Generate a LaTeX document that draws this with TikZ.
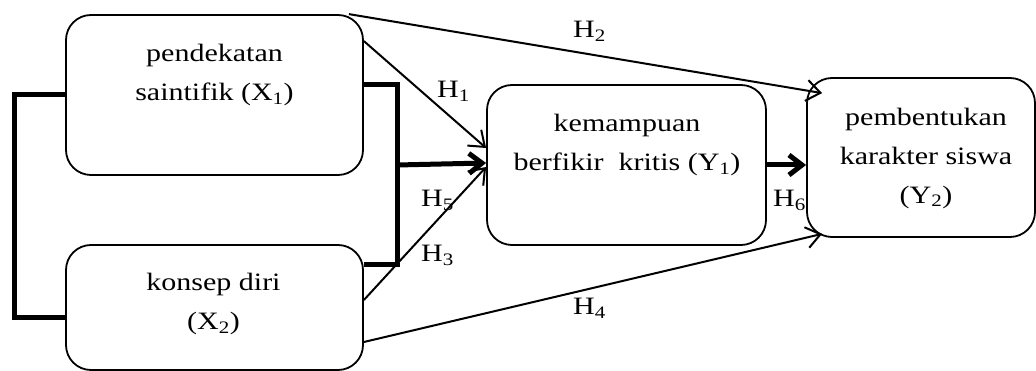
\documentclass[tikz,border=0pt]{standalone}
\usepackage{fontspec}
\setmainfont{Liberation Serif}[FakeStretch=1.2]
\usetikzlibrary{arrows.meta}
\begin{document}
\begin{tikzpicture}[x=1pt,y=-1pt,
  box/.style={draw, line width=1.8pt, rounded corners=25pt, inner sep=0pt},
  txt/.style={align=center, font=\fontsize{25}{39}\selectfont, inner sep=0pt},
  lab/.style={anchor=base west, font=\fontsize{25}{30}\selectfont, inner sep=0pt},
  thinarrow/.style={line width=2pt, -{Straight Barb[length=14pt,width=21pt]}},
  thickline/.style={line width=5pt},
  thickarrow/.style={line width=5pt, -{Straight Barb[length=13pt,width=20pt]}},
]
\useasboundingbox (0,0) rectangle (1036,371);
% boxes
\node[box, minimum width=297pt, minimum height=160pt] (X1) at (214.5,95) {};
\node[box, minimum width=297pt, minimum height=125pt] (X2) at (214.5,307.5) {};
\node[box, minimum width=279pt, minimum height=160pt] (Y1) at (626.5,165) {};
\node[box, minimum width=228pt, minimum height=159pt] (Y2) at (921,157.5) {};
% texts
\node[txt] (tX1) at (214.5,75) {pendekatan\\saintifik (X\textsubscript{1})};
\node[txt] (tX2) at (213.5,304) {konsep diri\\(X\textsubscript{2})};
\node[txt] (tY1) at (627,145) {kemampuan\\berfikir\ \ kritis (Y\textsubscript{1})};
\node[txt] (tY2) at (926,158) {pembentukan\\karakter siswa\\(Y\textsubscript{2})};
% coordinates
\coordinate (bR) at (397,85);
\coordinate (bR2) at (397,265);
\coordinate (bL) at (14,95);
\coordinate (bL2) at (14,318);
% left bracket
\draw[thickline] (X1.west |- bL) -- (bL) -- (bL2) -- (X2.west |- bL2);
% right bracket
\draw[thickline] (X1.east |- bR) -- (bR) -- (bR2) -- (X2.east |- bR2);
\draw[thickarrow] (bR |- Y1.west) -- ([yshift=2pt]Y1.west);
% single arrows
\draw[thinarrow] ([yshift=-27pt]X1.north east) -- ([yshift=17pt]Y1.west);
\draw[thinarrow] ([yshift=7.5pt]X2.east) -- ([yshift=-2pt]Y1.west);
\draw[thinarrow] ([xshift=-15pt]X1.north east) -- ([xshift=16pt,yshift=-16pt]Y2.north west);
\draw[thinarrow] ([yshift=-34.5pt]X2.east) -- ([xshift=16pt,yshift=4pt]Y2.south west);
\draw[thickarrow] (Y1.east) -- (Y1.east -| Y2.west);
% labels
\node[lab] (H1) at (437,98) {H\textsubscript{1}};
\node[lab] (H2) at (573,38) {H\textsubscript{2}};
\node[lab] (H3) at (421,262) {H\textsubscript{3}};
\node[lab] (H4) at (573,315) {H\textsubscript{4}};
\node[lab] (H5) at (421,207) {H\textsubscript{5}};
\node[lab] (H6) at (773,207) {H\textsubscript{6}};
\end{tikzpicture}
\end{document}
